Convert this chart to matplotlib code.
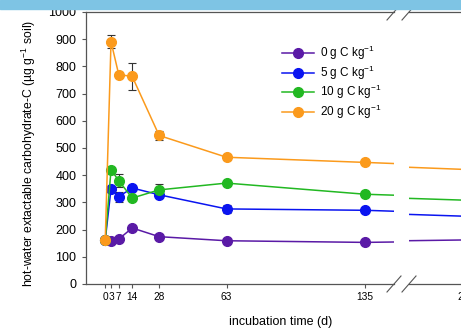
import matplotlib
matplotlib.use("Agg")
from matplotlib import pyplot as plt
from matplotlib.patches import Rectangle
from matplotlib.lines import Line2D

plt.rcParams['font.family'] = ['Liberation Sans', 'DejaVu Sans']
plt.rcParams['mathtext.default'] = 'regular'

# incubation days and carbohydrate-C values (ug g-1 soil)
days = [0, 3, 7, 14, 28, 63, 135, 230]
c0 = [162, 159, 165, 206, 174, 159, 153, 162]
c5 = [162, 350, 321, 353, 328, 276, 271, 249]
c10 = [162, 420, 380, 316, 346, 371, 330, 308]
c20 = [162, 891, 770, 763, 546, 466, 447, 421]

e0 = [0, 5, 5, 8, 8, 5, 5, 5]
e5 = [0, 8, 18, 8, 8, 15, 8, 8]
e10 = [0, 8, 25, 8, 22, 8, 8, 8]
e20 = [0, 23, 8, 50, 17, 10, 6, 6]

labels = ['0 g C kg$^{-1}$', '5 g C kg$^{-1}$', '10 g C kg$^{-1}$', '20 g C kg$^{-1}$']
colors = ['#5a1aa6', '#0a14f0', '#22b822', '#fb9a1c']
xticks1 = [0, 3, 7, 14, 28, 63, 135]
xticks2 = [230]

W, H = 461, 333
fig = plt.figure(figsize=(W / 100, H / 100), dpi=100)

def px(x0, y0, x1, y1):
    # pixel box -> figure fraction [left, bottom, width, height]
    return [x0 / W, 1 - y1 / H, (x1 - x0) / W, (y1 - y0) / H]

ax1 = fig.add_axes(px(86, 12, 394, 284))
ax2 = fig.add_axes(px(409, 12, 520, 284))

series = [(c0, e0), (c5, e5), (c10, e10), (c20, e20)]
for ax in (ax1, ax2):
    for (vals, errs), col, lab in zip(series, colors, labels):
        ax.errorbar(days, vals, yerr=errs, fmt='none', ecolor='#333333',
                    elinewidth=0.8, capsize=3, capthick=0.8, zorder=2)
        ax.plot(days, vals, color=col, lw=1.1, marker='o', markersize=7,
                label=lab, zorder=3)
    ax.set_ylim(0, 1000)
    for s in ('top', 'bottom', 'left', 'right'):
        ax.spines[s].set_color('#555555')
        ax.spines[s].set_linewidth(0.9)
    ax.spines['right'].set_visible(False)
    ax.tick_params(direction='out', length=3, width=0.8, color='#555555',
                   labelsize=7.3, pad=3)

ax1.set_xlim(-10, 150)
ax2.set_xlim(230 - 57 / 1.926, 230 - 57 / 1.926 + 111 / 1.926)
ax2.spines['left'].set_visible(False)
ax2.tick_params(axis='y', left=False, labelleft=False)

ax1.set_xticks(xticks1)
ax1.set_xticklabels([str(d) for d in xticks1])
ax2.set_xticks(xticks2)
ax2.set_xticklabels([str(d) for d in xticks2])
ax1.set_yticks(range(0, 1001, 100))
ax1.tick_params(axis='y', labelsize=9, pad=4)

ax1.set_ylabel('hot-water extactable carbohydrate-C (µg g$^{-1}$ soil)',
               fontsize=8.8)
ax1.yaxis.set_label_coords(-0.155, 0.48)
fig.text(281 / W, 1 - 322 / H, 'incubation time (d)', fontsize=9,
         ha='center', va='center')

ax1.legend(loc='upper left', bbox_to_anchor=(282 / W, 1 - 44 / H),
           bbox_transform=fig.transFigure, frameon=False, fontsize=8.5,
           handlelength=2.7, handletextpad=0.5, labelspacing=0.12,
           borderpad=0, borderaxespad=0)

# break marks on the x axis
for xa in (387, 402):
    for yc in (284, 12):
        fig.add_artist(Line2D([xa / W, (xa + 14) / W],
                              [1 - (yc + 8) / H, 1 - (yc - 8) / H],
                              color='#555555', lw=0.8))

# light blue strip along the top edge
fig.add_artist(Rectangle((0, 1 - 9 / H), 1, 9 / H, transform=fig.transFigure,
                         color='#7ec4e4', zorder=10))

fig.savefig('out.png', dpi=100)
